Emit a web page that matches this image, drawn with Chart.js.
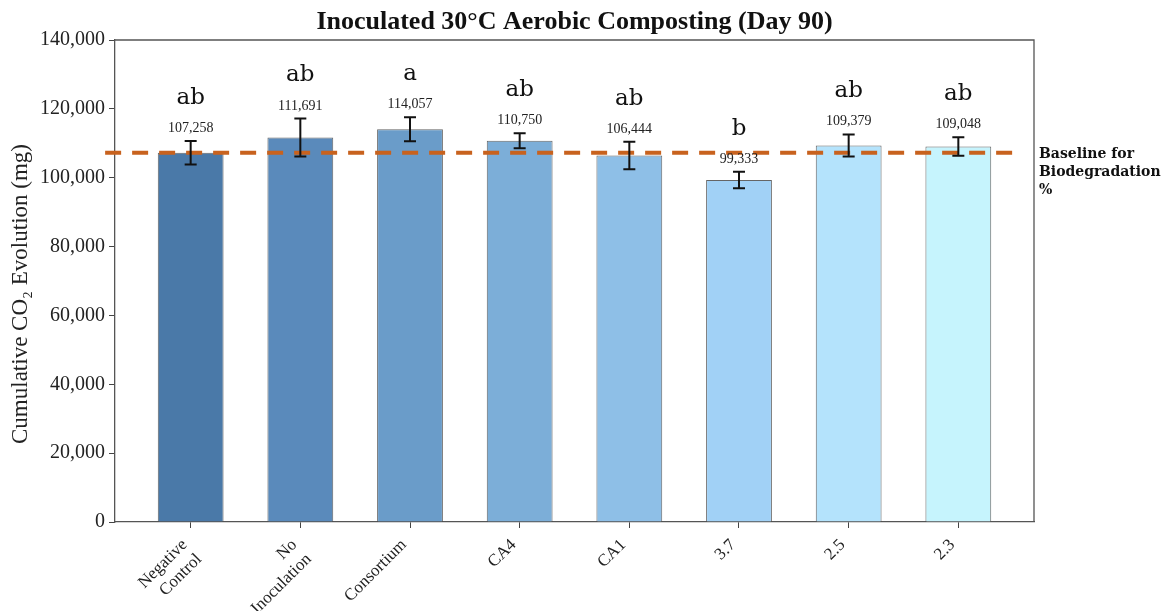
<!DOCTYPE html>
<html>
<head>
<meta charset="utf-8">
<script src="https://cdn.jsdelivr.net/npm/chart.js@4.4.0/dist/chart.umd.min.js"></script>
<style>
  html, body { margin: 0; padding: 0; background: #fff; }
  #wrap { width: 1167px; height: 611px; position: relative; }
</style>
</head>
<body>
<div id="wrap"><canvas id="co2-chart" width="1167" height="611"></canvas></div>
<script>
// day 90 cumulative CO2, inoculated 30°C composting
const categories = [['Negative', 'Control'], ['No', 'Inoculation'], 'Consortium', 'CA4', 'CA1', '3.7', '2.5', '2.3'];
const co2Means = [107258, 111691, 114057, 110750, 106444, 99333, 109379, 109048];
const co2Errors = [3400, 5500, 3500, 2200, 4000, 2400, 3200, 2700];
const groupLetters = ['ab', 'ab', 'a', 'ab', 'ab', 'b', 'ab', 'ab'];
const baselineValue = 107258;
const baselineLabel = ['Baseline for', 'Biodegradation', '%'];
const yTickValues = [0, 20000, 40000, 60000, 80000, 100000, 120000, 140000];

const barColors = ['#4a79a8', '#5a8abb', '#6a9cc9', '#7caed8', '#8ebfe7', '#a1d1f6', '#b4e3fc', '#c6f4fd'];

const SERIF = '"Liberation Serif", "DejaVu Serif", serif';
const fmt = (v) => v.toLocaleString('en-US');
// en space after each line nudges the rotated labels down-left of the tick
const padLabel = (c) => Array.isArray(c) ? c.map((s) => s + '\u2002') : c + '\u2002';

// error bars, value labels, significance letters, baseline and frame
const annotations = {
  id: 'annotations',
  afterDatasetsDraw(chart) {
    const ctx = chart.ctx;
    const xs = chart.scales.x, ys = chart.scales.y;
    const area = chart.chartArea;

    // dashed baseline
    ctx.save();
    ctx.strokeStyle = '#c8621e';
    ctx.lineWidth = 4;
    ctx.setLineDash([16, 11]);
    ctx.beginPath();
    const by = ys.getPixelForValue(baselineValue);
    ctx.moveTo(xs.getPixelForValue(-0.78), by);
    ctx.lineTo(xs.getPixelForValue(7.53), by);
    ctx.stroke();
    ctx.restore();

    // frame on top and right
    ctx.save();
    ctx.strokeStyle = '#555';
    ctx.lineWidth = 1.3;
    ctx.beginPath();
    ctx.moveTo(area.left, area.top);
    ctx.lineTo(area.right, area.top);
    ctx.lineTo(area.right, area.bottom);
    ctx.stroke();
    ctx.restore();

    co2Means.forEach((v, i) => {
      const x = xs.getPixelForValue(i);
      const top = ys.getPixelForValue(v + co2Errors[i]);
      const bot = ys.getPixelForValue(v - co2Errors[i]);

      ctx.save();
      ctx.strokeStyle = '#111';
      ctx.lineWidth = 2;
      ctx.beginPath();
      ctx.moveTo(x, top); ctx.lineTo(x, bot);
      ctx.moveTo(x - 6, top); ctx.lineTo(x + 6, top);
      ctx.moveTo(x - 6, bot); ctx.lineTo(x + 6, bot);
      ctx.stroke();

      ctx.fillStyle = '#222';
      ctx.textAlign = 'center';
      ctx.textBaseline = 'alphabetic';
      ctx.font = '14px ' + SERIF;
      ctx.fillText(fmt(v), x, top - 9);

      ctx.fillStyle = '#111';
      ctx.font = '23px "DejaVu Serif", serif';
      ctx.fillText(groupLetters[i], x, ys.getPixelForValue(v + co2Errors[i] + 10800));
      ctx.restore();
    });

    // baseline note to the right of the axes
    ctx.save();
    ctx.fillStyle = '#111';
    ctx.font = 'bold 14px "DejaVu Serif", serif';
    ctx.textAlign = 'left';
    baselineLabel.forEach((line, k) => {
      ctx.fillText(line, area.right + 5, 158 + k * 18);
    });
    ctx.restore();

    // y axis title
    ctx.save();
    ctx.fillStyle = '#222';
    ctx.font = '23px ' + SERIF;
    ctx.textAlign = 'center';
    ctx.textBaseline = 'middle';
    ctx.translate(21, 294);
    ctx.rotate(-Math.PI / 2);
    ctx.fillText('Cumulative CO₂ Evolution (mg)', 0, 0);
    ctx.restore();

    // title
    ctx.save();
    ctx.fillStyle = '#111';
    ctx.font = 'bold 26px ' + SERIF;
    ctx.textAlign = 'center';
    ctx.textBaseline = 'middle';
    ctx.fillText('Inoculated 30°C Aerobic Composting (Day 90)', (area.left + area.right) / 2, 22);
    ctx.restore();
  }
};

new Chart(document.getElementById('co2-chart'), {
  type: 'bar',
  data: {
    datasets: [{
      data: co2Means.map((v, i) => ({ x: i, y: v })),
      backgroundColor: barColors,
      borderColor: 'rgba(50, 50, 50, 0.75)',
      borderWidth: 1,
      barPercentage: 0.6,
      categoryPercentage: 1
    }]
  },
  options: {
    responsive: false,
    animation: false,
    devicePixelRatio: 1,
    layout: { padding: { top: 40, right: 133, left: 0, bottom: 0 } },
    plugins: { legend: { display: false }, tooltip: { enabled: false }, title: { display: false } },
    scales: {
      x: {
        type: 'linear',
        min: -0.69,
        max: 7.69,
        offset: false,
        afterBuildTicks(scale) { scale.ticks = categories.map((c, i) => ({ value: i })); },
        afterFit(scale) { scale.height = 89; },
        grid: { display: true, drawOnChartArea: false, drawTicks: true, tickLength: 6, tickColor: '#444', offset: false },
        border: { color: '#555', width: 1.3 },
        ticks: {
          autoSkip: false,
          maxRotation: 45,
          minRotation: 45,
          color: '#222',
          font: { family: SERIF, size: 17 },
          padding: 1,
          callback: (v) => padLabel(categories[v])
        }
      },
      y: {
        min: 0,
        max: 140000,
        afterBuildTicks(scale) { scale.ticks = yTickValues.map((v) => ({ value: v })); },
        afterFit(scale) { scale.width = 115; },
        grid: { display: true, drawOnChartArea: false, drawTicks: true, tickLength: 6, tickColor: '#444' },
        border: { color: '#555', width: 1.3 },
        ticks: {
          color: '#222',
          font: { family: SERIF, size: 20 },
          padding: 4,
          callback: (v) => fmt(v)
        }
      }
    }
  },
  plugins: [annotations]
});
</script>
</body>
</html>
